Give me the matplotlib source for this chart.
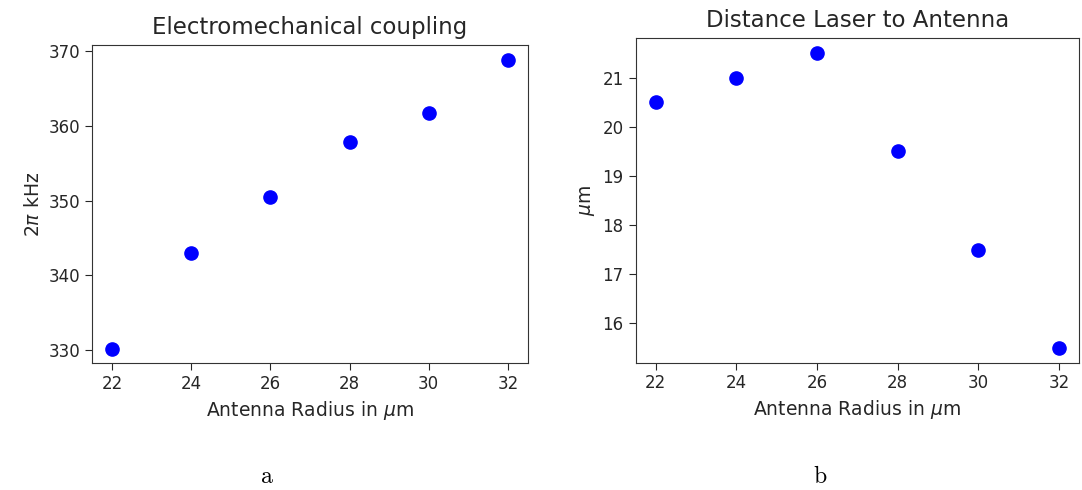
import matplotlib
matplotlib.use("Agg")
import matplotlib.pyplot as plt
from matplotlib.ticker import MultipleLocator

radius = [22, 24, 26, 28, 30, 32]
coupling = [330.2, 343.0, 350.5, 357.8, 361.7, 368.8]
distance = [20.5, 21.0, 21.5, 19.5, 17.5, 15.5]

titles = ["Electromechanical coupling", "Distance Laser to Antenna"]
xlabel = r"Antenna Radius in $\mu$m"
ylabels = [r"$2\pi$ kHz", r"$\mu$m"]
captions = ["a", "b"]
xticks = [22, 24, 26, 28, 30, 32]

text_color = "#262626"
plt.rcParams["text.color"] = text_color
plt.rcParams["axes.labelcolor"] = text_color
plt.rcParams["xtick.color"] = text_color
plt.rcParams["ytick.color"] = text_color
plt.rcParams["axes.edgecolor"] = "#333333"

fig = plt.figure(figsize=(10.82, 4.90), dpi=100)
ax1 = fig.add_axes([92.3 / 1082, (490 - 363.3) / 490, 435.4 / 1082, 318.0 / 490])
ax2 = fig.add_axes([635.5 / 1082, (490 - 362.5) / 490, 443.5 / 1082, 324.2 / 490])

for ax, y, t, yl in zip([ax1, ax2], [coupling, distance], titles, ylabels):
    ax.plot(radius, y, "o", color="blue", markersize=9.5)
    ax.set_title(t, fontsize=16.5, pad=8)
    ax.set_xlabel(xlabel, fontsize=13.5)
    ax.set_ylabel(yl, fontsize=13.5)
    ax.set_xticks(xticks)
    ax.tick_params(labelsize=12, length=5)

ax1.yaxis.set_major_locator(MultipleLocator(10))
ax2.yaxis.set_major_locator(MultipleLocator(1))

fig.text(267 / 1082, 1 - 477 / 490, captions[0], fontsize=17, family="cmr10",
         ha="center", va="center", color="black")
fig.text(820 / 1082, 1 - 477 / 490, captions[1], fontsize=17, family="cmr10",
         ha="center", va="center", color="black")

fig.savefig("out.png", dpi=100)
